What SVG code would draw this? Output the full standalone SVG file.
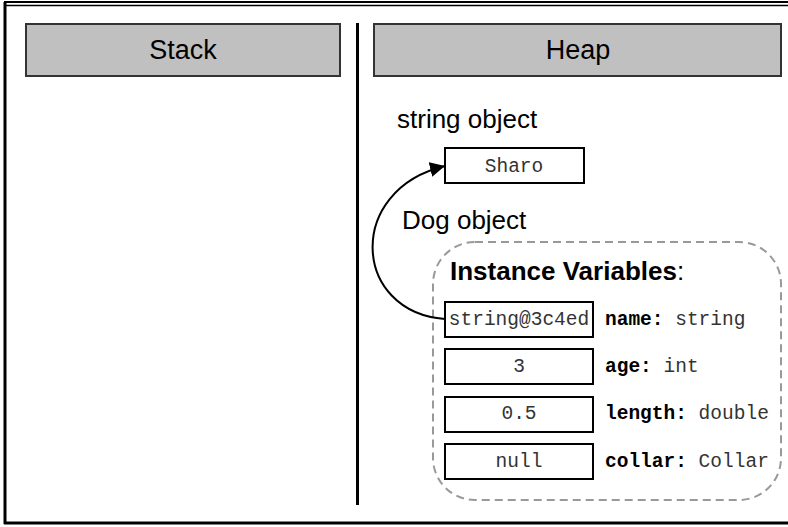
<svg xmlns="http://www.w3.org/2000/svg" width="788" height="527" viewBox="0 0 788 527">
<defs>
<style>
.hdr{fill:#c0c0c0;stroke:#333;stroke-width:2}
.sans{font-family:"Liberation Sans",Arial,sans-serif;fill:#000}
.mono{font-family:"Liberation Mono","Courier New",monospace;font-size:19.5px;fill:#333}
.lbl{font-weight:bold;fill:#000}
.cell{fill:#fff;stroke:#000;stroke-width:2}
</style>
<marker id="ah" viewBox="0 0 10 10" refX="10" refY="5" markerWidth="15" markerHeight="15" markerUnits="userSpaceOnUse" orient="auto">
<path d="M0,0 L10,5 L0,10 z" fill="#000"/>
</marker>
</defs>
<rect width="788" height="527" fill="#fff"/>
<g id="frame" fill="none" stroke="#000">
<line x1="4" y1="2" x2="788" y2="2" stroke-width="2"/>
<line x1="4" y1="5.5" x2="788" y2="5.5" stroke-width="1.5"/>
<line x1="5" y1="2" x2="5" y2="524" stroke-width="3"/>
<line x1="4" y1="523" x2="788" y2="523" stroke-width="3"/>
<line x1="357.5" y1="23" x2="357.5" y2="505" stroke-width="3"/>
</g>
<g id="stack">
<rect class="hdr" x="26" y="24" width="314" height="52"/>
<text class="sans" x="183" y="59" font-size="27" text-anchor="middle">Stack</text>
</g>
<g id="heap">
<rect class="hdr" x="374" y="24" width="407" height="52"/>
<text class="sans" x="578" y="59" font-size="27" text-anchor="middle">Heap</text>
</g>
<g id="string-object">
<text class="sans" x="397" y="128" font-size="26">string object</text>
<rect class="cell" x="445" y="148" width="139" height="35"/>
<text class="mono" x="514" y="172" text-anchor="middle">Sharo</text>
</g>
<g id="dog-object">
<text class="sans" x="402" y="229" font-size="26">Dog object</text>
<rect x="433" y="242" width="348" height="258" rx="42" ry="42" fill="none" stroke="#999" stroke-width="2" stroke-dasharray="8,5"/>
<text class="sans" x="450" y="280" font-size="26"><tspan font-weight="bold">Instance Variables</tspan>:</text>
</g>
<g id="field-name">
<rect class="cell" x="445" y="302" width="148" height="35"/>
<text class="mono" x="519" y="325" text-anchor="middle">string@3c4ed</text>
<text class="mono" x="605" y="325"><tspan class="lbl">name:</tspan> string</text>
</g>
<g id="field-age">
<rect class="cell" x="445" y="349" width="148" height="35"/>
<text class="mono" x="519" y="372" text-anchor="middle">3</text>
<text class="mono" x="605" y="372"><tspan class="lbl">age:</tspan> int</text>
</g>
<g id="field-length">
<rect class="cell" x="445" y="397" width="148" height="35"/>
<text class="mono" x="519" y="419" text-anchor="middle">0.5</text>
<text class="mono" x="605" y="419"><tspan class="lbl">length:</tspan> double</text>
</g>
<g id="field-collar">
<rect class="cell" x="445" y="444" width="148" height="35"/>
<text class="mono" x="519" y="467" text-anchor="middle">null</text>
<text class="mono" x="605" y="467"><tspan class="lbl">collar:</tspan> Collar</text>
</g>
<g id="connectors">
<path d="M445,319 C352,312 345,190 445,166" fill="none" stroke="#000" stroke-width="2" marker-end="url(#ah)"/>
</g>
</svg>
